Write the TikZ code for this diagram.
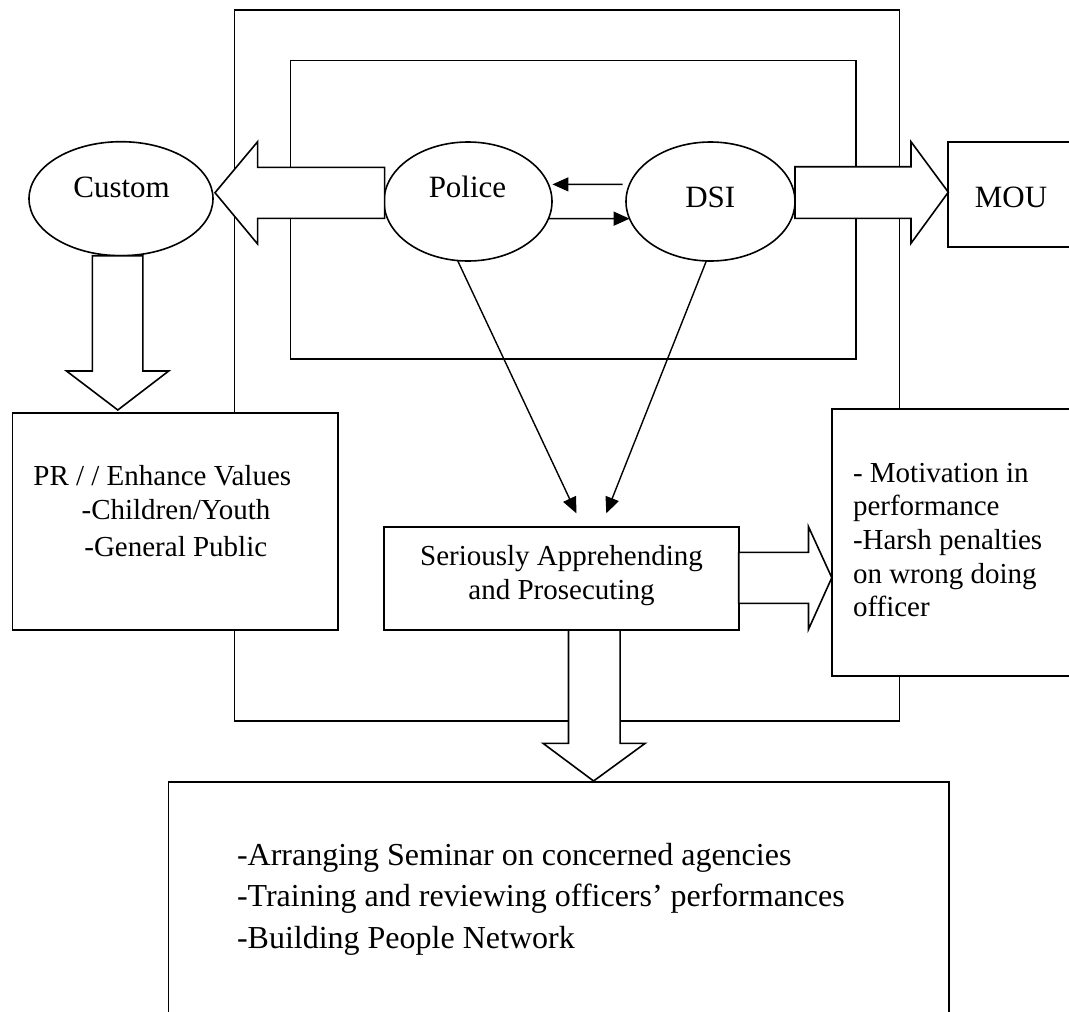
\documentclass[tikz,border=0pt]{standalone}
\usepackage{fontspec}
\setmainfont{Liberation Serif}
\usetikzlibrary{arrows.meta,shapes.geometric}
\begin{document}
\begin{tikzpicture}[x=1pt,y=-1pt,
  every node/.style={inner sep=0pt, outer sep=0pt},
  ln/.style={line width=1.6pt},
  ell/.style={ellipse, draw, ln, fill=white},
  box/.style={rectangle, draw, ln, fill=white},
  blk/.style={draw, ln, fill=white, line join=miter},
  txt/.style={font=\fontsize{29}{34}\selectfont, anchor=base west},
  ctxt/.style={font=\fontsize{29}{34}\selectfont, anchor=base},
  lbl/.style={font=\fontsize{31}{36}\selectfont, anchor=base},
  btxt/.style={font=\fontsize{32}{42}\selectfont, anchor=base west},
  arr/.style={line width=1.4pt, -{Triangle[length=16pt,width=14pt]}}
]
\useasboundingbox (0,0) rectangle (1069,1012);
\clip (0,0) rectangle (1069,1012);

% frames
\draw[ln] (234.5,9.7) rectangle (899.5,721);
\draw[ln] (290.3,60.3) rectangle (856,359);

% ellipses
\node[ell, minimum width=184pt, minimum height=114pt] (custom) at (121,198.7) {};
\node[ell, minimum width=168pt, minimum height=119pt] (police) at (468,201.5) {};
\node[ell, minimum width=169pt, minimum height=119pt] (dsi) at (710.5,201.5) {};

% boxes
\node[box, minimum width=132pt, minimum height=105pt] (mou) at (1014,194.5) {};
\node[box, minimum width=325.6pt, minimum height=217pt] (pr) at (175.2,521.5) {};
\node[box, minimum width=354.7pt, minimum height=103pt] (seri) at (561.35,578.5) {};
\node[box, minimum width=248.2pt, minimum height=267pt] (moti) at (955.9,542.5) {};
\node[box, minimum width=780.3pt, minimum height=238pt] (bottom) at (558.55,901) {};

% block arrows
\draw[blk] (384.6,167.3) -- (257.6,167.3) -- (257.6,141.7) -- (215,192.7)
  -- (257.6,244) -- (257.6,218.3) -- (384.6,218.3) -- cycle;
\draw[blk] (795,166.7) -- (911,166.7) -- (911,141.7) -- (948.3,192.2)
  -- (911,243.3) -- (911,218.3) -- (795,218.3) -- cycle;
\draw[blk] (92.3,255.7) -- (92.3,371) -- (66.5,371) -- (117.8,410)
  -- (168.7,371) -- (142.9,371) -- (142.9,255.7) -- cycle;
\draw[blk] (568.5,630) -- (568.5,743.3) -- (543,743.3) -- (593.6,781)
  -- (645.2,743.3) -- (620.1,743.3) -- (620.1,630) -- cycle;
\draw[blk] (738.7,552.3) -- (808.5,552.3) -- (808.5,526.7) -- (831.8,577.7)
  -- (808.5,629.3) -- (808.5,603.3) -- (738.7,603.3) -- cycle;

% labels
\node[lbl] (customT) at (121.6,197) {Custom};
\node[lbl] (policeT) at (467.5,197) {Police};
\node[lbl] (dsiT) at (710.3,207) {DSI};
\node[lbl] (mouT) at (1011,207) {MOU};

\node[txt] (pr1) at (33.4,485) {PR / / Enhance Values};
\node[txt] (pr2) at (81.6,519) {-Children/Youth};
\node[txt] (pr3) at (84.4,556.7) {-General Public};

\node[ctxt] (seri1) at (561.5,565) {Seriously Apprehending};
\node[ctxt] (seri2) at (561.5,599) {and Prosecuting};

\node[txt] (mot1) at (853,482) {- Motivation in};
\node[txt] (mot2) at (853,515.7) {performance};
\node[txt] (mot3) at (853,549.4) {-Harsh penalties};
\node[txt] (mot4) at (853,583.1) {on wrong doing};
\node[txt] (mot5) at (853,616.8) {officer};

\node[btxt] (b1) at (237,865) {-Arranging Seminar on concerned agencies};
\node[btxt] (b2) at (237,906.7) {-Training and reviewing officers’ performances};
\node[btxt] (b3) at (237,948.3) {-Building People Network};

% thin arrows
\draw[arr, shorten <=7pt, shorten >=4pt] (dsi.168) -- (police.12);
\draw[arr] (police.-12) -- (dsi.192);
\coordinate (inA) at (576.4,513.3);
\coordinate (inB) at (606.3,513.3);
\draw[arr] (police.-100) -- (inA);
\draw[arr] (dsi.-94) -- (inB);
\end{tikzpicture}
\end{document}
